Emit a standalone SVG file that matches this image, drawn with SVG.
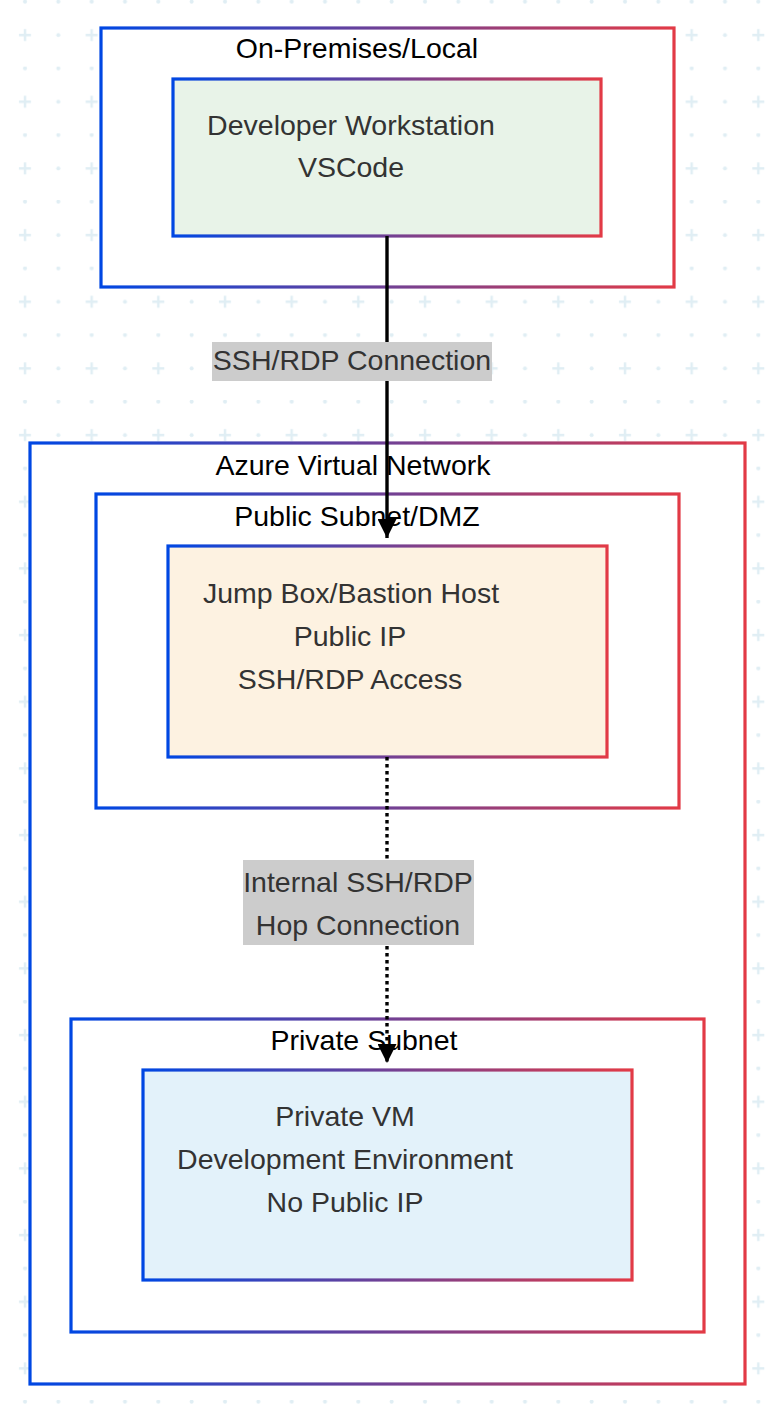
<svg xmlns="http://www.w3.org/2000/svg" width="770" height="1414" viewBox="0 0 770 1414">
  <defs>
    <pattern id="bg" x="0" y="0" width="66.667" height="66.667" patternUnits="userSpaceOnUse">
      <path d="M19 35H31M25 29V41" stroke="#e0eef4" stroke-width="2.5" fill="none"/>
      <circle cx="58.33" cy="35" r="2" fill="#e0eef4"/>
      <circle cx="25" cy="1.67" r="2" fill="#e0eef4"/>
      <circle cx="58.33" cy="1.67" r="2" fill="#e0eef4"/>
    </pattern>
    <linearGradient id="edgeGrad" x1="0" y1="0" x2="1" y2="0">
      <stop offset="0" stop-color="#0047e3"/>
      <stop offset="1" stop-color="#e23a46"/>
    </linearGradient>
    <marker id="arrow" viewBox="0 0 10 10" refX="10" refY="5" markerWidth="20" markerHeight="19" markerUnits="userSpaceOnUse" orient="auto">
      <path d="M0 0L10 5L0 10Z" fill="#000"/>
    </marker>
    <style>
      .cluster { fill: #ffffff; stroke: url(#edgeGrad); stroke-width: 3.2; }
      .node rect { stroke: url(#edgeGrad); stroke-width: 3.2; }
      .ctitle { font-family: "Liberation Sans", Arial, sans-serif; font-size: 28.5px; fill: #000; text-anchor: middle; }
      .ntext { font-family: "Liberation Sans", Arial, sans-serif; font-size: 28.5px; fill: #333; text-anchor: middle; }
      .elabel rect { fill: #cccccc; }
      .edge { fill: none; stroke: #000; stroke-width: 3.4; }
    </style>
  </defs>

  <rect x="0" y="0" width="770" height="1414" fill="#ffffff"/>
  <rect x="0" y="0" width="770" height="1414" fill="url(#bg)"/>

  <g id="cluster-onprem">
    <rect class="cluster" x="101" y="28" width="573" height="259"/>
    <text class="ctitle" x="357" y="58">On-Premises/Local</text>
  </g>

  <g id="cluster-vnet">
    <rect class="cluster" x="30" y="443" width="715" height="941"/>
    <text class="ctitle" x="353" y="475">Azure Virtual Network</text>
  </g>

  <g id="cluster-public">
    <rect class="cluster" x="96" y="494" width="583" height="314"/>
    <text class="ctitle" x="357" y="526">Public Subnet/DMZ</text>
  </g>

  <g id="cluster-private">
    <rect class="cluster" x="71" y="1019" width="633" height="313"/>
    <text class="ctitle" x="364" y="1050">Private Subnet</text>
  </g>

  <g id="node-dev" class="node">
    <rect x="173" y="79" width="428" height="157" fill="#e8f3e8"/>
    <text class="ntext" x="351" y="135">Developer Workstation</text>
    <text class="ntext" x="351" y="177">VSCode</text>
  </g>

  <g id="node-jump" class="node">
    <rect x="168" y="546" width="439" height="211" fill="#fdf2e1"/>
    <text class="ntext" x="351" y="603">Jump Box/Bastion Host</text>
    <text class="ntext" x="350" y="646">Public IP</text>
    <text class="ntext" x="350" y="689">SSH/RDP Access</text>
  </g>

  <g id="node-private" class="node">
    <rect x="143" y="1070" width="489" height="210" fill="#e3f2fa"/>
    <text class="ntext" x="345" y="1126">Private VM</text>
    <text class="ntext" x="345" y="1169">Development Environment</text>
    <text class="ntext" x="345" y="1212">No Public IP</text>
  </g>

  <g id="connectors">
    <path class="edge" d="M387 236V538" marker-end="url(#arrow)"/>
    <path class="edge" d="M387 757V1063" stroke-dasharray="3.5 3.5" marker-end="url(#arrow)"/>
    <g class="elabel">
      <rect x="212" y="342" width="280" height="39"/>
      <text class="ntext" x="352" y="370">SSH/RDP Connection</text>
    </g>
    <g class="elabel">
      <rect x="243" y="860" width="231" height="85"/>
      <text class="ntext" x="358" y="892">Internal SSH/RDP</text>
      <text class="ntext" x="358" y="935">Hop Connection</text>
    </g>
  </g>
</svg>
